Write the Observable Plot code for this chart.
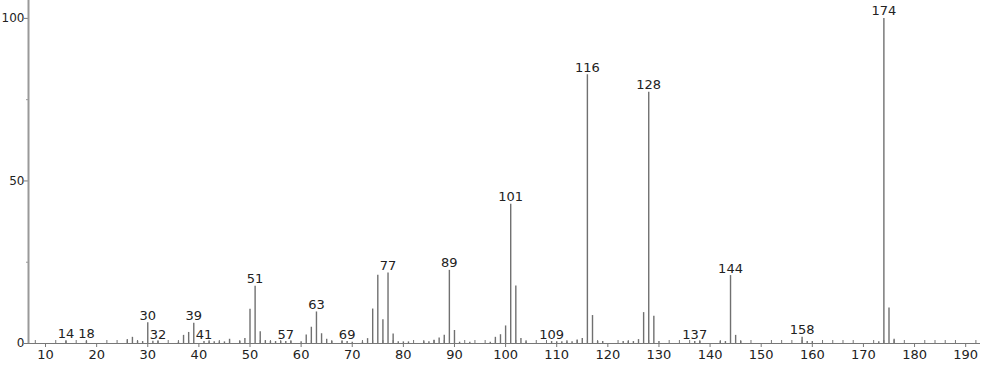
<!DOCTYPE html>
<html>
<head>
<meta charset="utf-8">
<script src="https://cdn.jsdelivr.net/npm/d3@7"></script>
<script src="https://cdn.jsdelivr.net/npm/@observablehq/plot@0.6"></script>
<style>
  html, body { margin: 0; padding: 0; background: #fff; }
  #chart svg { display: block; }
</style>
</head>
<body>
<div id="chart"></div>
<script>
const mz = [14,18,26,27,28,29,30,31,32,36,37,38,39,41,42,43,44,45,46,48,49,50,51,52,53,54,55,56,57,58,60,61,62,63,64,65,66,68,69,70,72,73,74,75,76,77,78,79,80,81,84,85,86,87,88,89,90,91,93,97,98,99,100,101,102,103,104,109,110,111,112,113,114,115,116,117,118,119,123,124,125,126,127,128,129,130,137,138,142,143,144,145,146,158,159,160,173,174,175,176];
const intensity = [0.7,0.7,1.2,1.9,0.7,0.6,6.4,0.7,0.6,0.4,2.5,3.4,6.2,0.6,0.5,0.5,0.5,0.5,1.3,0.6,1.5,10.5,17.6,3.6,0.9,0.6,0.6,0.6,0.6,0.6,0.5,2.6,5.0,9.7,3.0,1.3,0.6,0.6,0.6,0.4,0.4,1.5,10.6,21.0,7.3,21.7,2.9,0.5,0.5,0.5,0.5,0.5,1.0,1.7,2.5,22.5,4.0,0.4,0.4,0.4,1.9,2.7,5.4,42.8,17.7,1.5,0.5,0.6,0.5,0.5,0.5,0.5,1.1,1.5,82.7,8.6,0.6,0.6,0.6,0.6,0.6,1.2,9.5,77.3,8.4,0.6,0.6,0.6,0.6,0.6,20.9,2.5,0.6,1.9,0.6,0.6,0.5,100,10.9,1.3];
const labeled = [14,18,30,32,39,41,51,57,63,69,77,89,101,109,116,128,137,144,158,174];
const yTicks = [0,50,100];
const yMinor = [25,75];
const xTicks = d3.range(10, 191, 10);
const xMinor = d3.range(8, 193, 2).filter(d => d % 10 !== 0);

const peaks = mz.map((m, i) => ({mz: m, intensity: intensity[i]}));
const labelData = labeled.map(m => {
  const p = peaks.find(d => d.mz === m);
  return {mz: m, intensity: p ? p.intensity : 0};
});

const xDomain = [6.67, 192.9];
const yDomain = [0, 105.5];
const font = "'DejaVu Sans', sans-serif";

const chart = Plot.plot({
  width: 982,
  height: 365,
  marginLeft: 28,
  marginRight: 2,
  marginTop: 0,
  marginBottom: 22,
  style: {fontFamily: font, fontSize: "13px", color: "#222", background: "#fff"},
  x: {domain: xDomain},
  y: {domain: yDomain},
  marks: [
    Plot.axisX({ticks: xTicks, tickSize: 4, tickPadding: 2, stroke: "#777", fill: "#222", fontSize: 13, label: null}),
    Plot.axisX({ticks: xMinor, tickSize: -3, tickFormat: () => "", stroke: "#777", label: null}),
    Plot.axisY({ticks: yTicks, tickSize: 4, tickPadding: 0, stroke: "#777", fill: "#222", fontSize: 12, label: null}),
    Plot.axisY({ticks: yMinor, tickSize: 2, tickFormat: () => "", stroke: "#999", label: null}),
    Plot.ruleY([0], {x1: xDomain[0], x2: xDomain[1], stroke: "#777", strokeWidth: 1.2}),
    Plot.ruleX([xDomain[0]], {y1: yDomain[0], y2: yDomain[1], stroke: "#999", strokeWidth: 2}),
    Plot.ruleX(peaks, {x: "mz", y1: 0, y2: "intensity", stroke: "#707070", strokeWidth: 1.4}),
    Plot.text(labelData, {x: "mz", y: "intensity", text: d => String(d.mz), lineAnchor: "bottom", dy: -3, fill: "#222", fontSize: 13})
  ]
});
document.getElementById("chart").appendChild(chart);
</script>
</body>
</html>
